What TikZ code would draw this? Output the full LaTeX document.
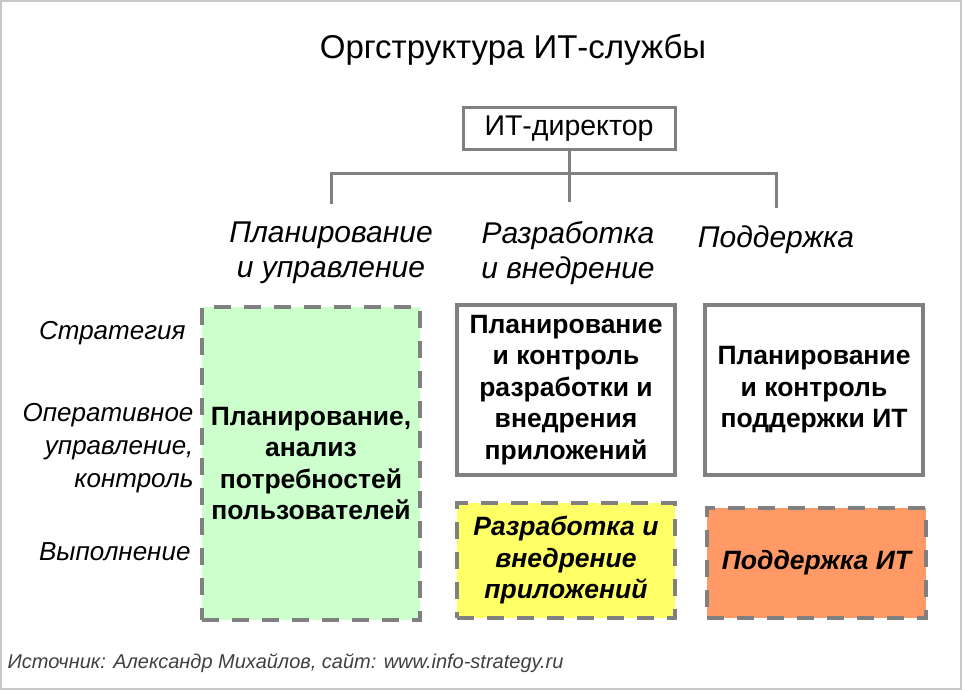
\documentclass[tikz,border=0pt]{standalone}
\usepackage{fontspec}
\setmainfont{Liberation Sans}
\usetikzlibrary{positioning}

\definecolor{framegray}{HTML}{C8C8C8}
\definecolor{linegray}{HTML}{808080}
\definecolor{boxgreen}{HTML}{CCFFCC}
\definecolor{boxyellow}{HTML}{FFFF66}
\definecolor{boxorange}{HTML}{FF9966}

\tikzset{
  unitbox/.style={draw=linegray, line width=3.5pt, fill=white, minimum width=218pt,
    align=center, inner sep=0pt, font=\fontsize{26.5}{31.5}\selectfont\bfseries},
  workbox/.style={unitbox, dash pattern=on 17pt off 13pt},
  headtext/.style={align=center, font=\fontsize{30}{35}\selectfont\itshape},
  leveltext/.style={anchor=east, align=right, font=\fontsize{26}{33}\selectfont\itshape},
  tree/.style={draw=linegray, line width=3pt}
}

\begin{document}
\begin{tikzpicture}[x=1pt, y=-1pt]
    \useasboundingbox (0,0) rectangle (962,690);
    \draw[framegray, line width=2pt] (1,1) rectangle (961,689);

    % Title
    \node[font=\fontsize{33}{38}\selectfont] (title) at (513,50) {Оргструктура ИТ-службы};

    % Director
    \node[draw=linegray, line width=3pt, minimum width=212pt, minimum height=42pt,
          font=\fontsize{28.5}{32}\selectfont] (dir) at (569,129) {ИТ-директор};

    % Tree
    \coordinate (fork) at (569,174);
    \coordinate (plan top) at (331,174);
    \coordinate (dev top) at (776,174);
    \coordinate (plan end) at (331,204);
    \coordinate (dev end) at (569,202);
    \coordinate (sup end) at (776,208);
    \draw[tree] (dir.south) -- (fork) -- (dev end);
    \draw[tree] (plan end) -- (plan top) -- (dev top) -- (sup end);

    % Column heads
    \node[headtext] (plan) at (331,253) {Планирование\\и управление};
    \node[headtext] (dev) at (568,253) {Разработка\\и внедрение};
    \node[headtext] (sup) at (776,240) {Поддержка};

    % Levels
    \node[leveltext] (strat) at (189,333) {Стратегия};
    \node[leveltext] (oper) at (197,448) {Оперативное\\управление,\\контроль};
    \node[leveltext] (exec) at (194,552) {Выполнение};

    % Boxes
    \node[workbox, fill=boxgreen, minimum height=313pt] (needs) at (311,463.5)
        {Планирование,\\анализ\\потребностей\\пользователей};
    \node[unitbox, minimum height=170pt] (devctl) at (566,390)
        {Планирование\\и контроль\\разработки и\\внедрения\\приложений};
    \node[workbox, fill=boxyellow, minimum height=115pt,
          font=\fontsize{26.5}{31.5}\selectfont\bfseries\itshape] (devwork) at (566,560.5)
        {Разработка и\\внедрение\\приложений};
    \node[unitbox, minimum height=170pt] (supctl) at (814,390)
        {Планирование\\и контроль\\поддержки ИТ};
    \node[workbox, fill=boxorange, minimum height=110pt, minimum width=219pt,
          font=\fontsize{26.5}{31.5}\selectfont\bfseries\itshape] (supwork) at (816.5,563)
        {Поддержка ИТ};

    % Source
    \node[anchor=west, text=black!75, font=\fontsize{20}{24}\selectfont\itshape] (src) at (4,663)
        {Источник: Александр Михайлов, сайт: www.info-strategy.ru};
\end{tikzpicture}
\end{document}
